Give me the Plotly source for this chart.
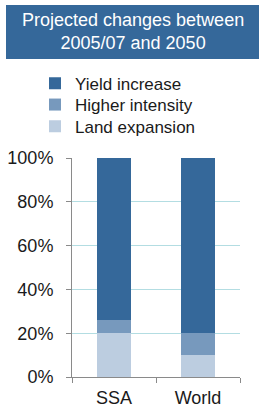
import plotly.graph_objects as go

categories = ["SSA", "World"]
land_expansion = [0.20, 0.10]
higher_intensity = [0.06, 0.10]
yield_increase = [0.74, 0.80]
series_names = ["Land expansion", "Higher intensity", "Yield increase"]
colors = ["#bccde0", "#7799bd", "#35689a"]
title_lines = ["Projected changes between", "2005/07 and 2050"]

W, H = 262, 407
L, R, T, B = 72, 22, 158, 30
pw, ph = W - L - R, H - T - B
FONT = "Liberation Sans, Arial, sans-serif"

def px_x(p):
    return (p - L) / pw

def px_y(p):
    return (H - B - p) / ph

legend_ids = ["legend3", "legend2", "legend"]
legend_rows = [126.7, 105, 83.7]

fig = go.Figure()
for name, vals, col, lg in zip(series_names, [land_expansion, higher_intensity, yield_increase], colors, legend_ids):
    fig.add_trace(go.Bar(x=categories, y=vals, name=name, legend=lg,
                         marker=dict(color=col, line=dict(width=0))))

fig.add_shape(type="rect", xref="paper", yref="paper",
              x0=px_x(6), x1=px_x(259), y0=px_y(59), y1=px_y(5),
              fillcolor="#35689a", line=dict(width=0), layer="above")
fig.add_annotation(xref="paper", yref="paper", x=px_x(132.5), y=px_y(32),
                   text="<br>".join(title_lines), showarrow=False,
                   font=dict(family=FONT, size=18, color="white"),
                   xanchor="center", yanchor="middle")

legend_common = dict(xref="paper", yref="paper", xanchor="left", yanchor="middle",
                     font=dict(family=FONT, size=17, color="#1a1a1a"),
                     bgcolor="rgba(0,0,0,0)", borderwidth=0)
legends = {}
for lg, row in zip(legend_ids, legend_rows):
    legends[lg] = dict(x=px_x(35), y=px_y(row), **legend_common)

fig.update_layout(
    width=W, height=H,
    margin=dict(l=L, r=R, t=T, b=B, autoexpand=False),
    barmode="stack", bargap=0.6,
    paper_bgcolor="white", plot_bgcolor="white",
    font=dict(family=FONT, size=18, color="#1a1a1a"),
    showlegend=True,
    **legends,
)
fig.update_yaxes(range=[0, 1], dtick=0.2, tickformat=".0%",
                 showgrid=True, gridcolor="#b3dde2", gridwidth=1,
                 zeroline=False, showline=True, linecolor="#8a8a8a", linewidth=1,
                 ticks="outside", ticklen=5, tickcolor="#8a8a8a",
                 tickfont=dict(family=FONT, size=18, color="#1a1a1a"),
                 ticklabelstandoff=9, fixedrange=True, automargin=False)
fig.update_xaxes(showgrid=False, zeroline=False, showline=True, linecolor="#8a8a8a",
                 linewidth=1, ticks="outside", ticklen=5, tickcolor="#8a8a8a",
                 tickfont=dict(family=FONT, size=18, color="#1a1a1a"),
                 tickson="boundaries", ticklabelstandoff=4, fixedrange=True, automargin=False)

fig.write_html("out.html", config={"displayModeBar": False},
               post_script="document.body.style.margin='0';document.body.style.padding='0';")
